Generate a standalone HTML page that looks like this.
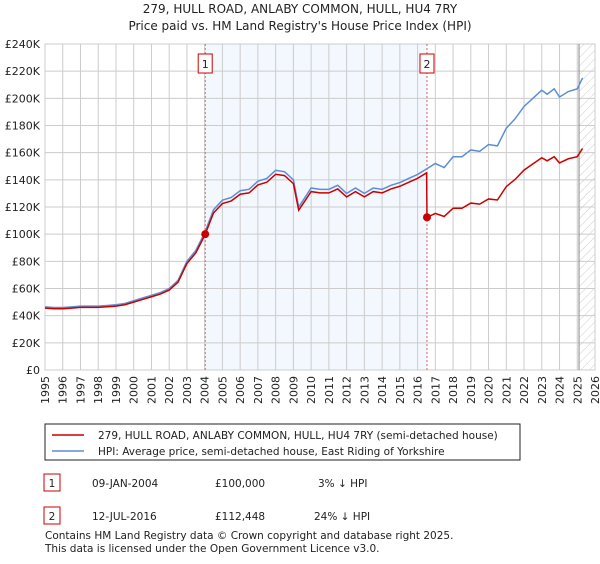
<!DOCTYPE html>
<html><head><meta charset="utf-8"><style>
body{margin:0;background:#fff;font-family:"DejaVu Sans","Liberation Sans",sans-serif;}
svg text{font-family:"DejaVu Sans","Liberation Sans",sans-serif;fill:#222;}
</style></head><body>
<svg id="chart" width="600" height="560" xmlns="http://www.w3.org/2000/svg">
<defs><pattern id="hatch" width="6" height="6" patternUnits="userSpaceOnUse" patternTransform="rotate(45)"><line x1="0" y1="0" x2="0" y2="6" stroke="#ccc" stroke-width="1"/></pattern></defs>
<text x="300" y="13" text-anchor="middle" font-size="12">279, HULL ROAD, ANLABY COMMON, HULL, HU4 7RY</text>
<text x="300" y="30" text-anchor="middle" font-size="12">Price paid vs. HM Land Registry's House Price Index (HPI)</text>
<g id="grid"></g><g id="axes"></g><g id="series"></g>
<rect x="45" y="424" width="475" height="36" fill="#fff" stroke="#222"/>
<line x1="52" y1="435" x2="84" y2="435" stroke="#cc0000" stroke-width="1.5"/>
<text x="98" y="439" font-size="10.5">279, HULL ROAD, ANLABY COMMON, HULL, HU4 7RY (semi-detached house)</text>
<line x1="52" y1="451" x2="84" y2="451" stroke="#5b8ed6" stroke-width="1.5"/>
<text x="98" y="455" font-size="10.5">HPI: Average price, semi-detached house, East Riding of Yorkshire</text>
<g>
<rect x="44" y="474" width="16" height="17" fill="#fff" stroke="#cc0000"/><text x="52" y="487" text-anchor="middle" font-size="10.5">1</text>
<text x="92" y="487" font-size="10.5">09-JAN-2004</text><text x="215" y="487" font-size="10.5">£100,000</text><text x="318" y="487" font-size="10.5">3% ↓ HPI</text></g>
<g>
<rect x="44" y="507" width="16" height="17" fill="#fff" stroke="#cc0000"/><text x="52" y="520" text-anchor="middle" font-size="10.5">2</text>
<text x="92" y="520" font-size="10.5">12-JUL-2016</text><text x="215" y="520" font-size="10.5">£112,448</text><text x="314" y="520" font-size="10.5">24% ↓ HPI</text></g>
<text x="45" y="539" font-size="10.5" fill="#444">Contains HM Land Registry data © Crown copyright and database right 2025.</text>
<text x="45" y="552" font-size="10.5" fill="#444">This data is licensed under the Open Government Licence v3.0.</text>
</svg>
<script>
const hpiYears=[1995,1995.5,1996,1996.5,1997,1997.5,1998,1998.5,1999,1999.5,2000,2000.5,2001,2001.5,2002,2002.5,2003,2003.5,2004,2004.5,2005,2005.5,2006,2006.5,2007,2007.5,2008,2008.5,2009,2009.3,2009.7,2010,2010.5,2011,2011.5,2012,2012.5,2013,2013.5,2014,2014.5,2015,2015.5,2016,2016.5,2017,2017.5,2018,2018.5,2019,2019.5,2020,2020.5,2021,2021.5,2022,2022.5,2023,2023.3,2023.7,2024,2024.5,2025,2025.3];
const hpiValues=[46.5,46,46,46.5,47,47,47,47.5,48,49,51,53,55,57,60,66,80,88,101,118,125,127,132,133,139,141,147,146,140,120,128,134,133,133,136,130,134,130,134,133,136,138,141,144,148,152,149,157,157,162,161,166,165,178,185,194,200,206,203,207,201,205,207,215];
const sales=[{t:2004.03,price:100000,label:"1"},{t:2016.53,price:112448,label:"2"}];
const yTicks=[0,20,40,60,80,100,120,140,160,180,200,220,240];
const xTicks=[1995,1996,1997,1998,1999,2000,2001,2002,2003,2004,2005,2006,2007,2008,2009,2010,2011,2012,2013,2014,2015,2016,2017,2018,2019,2020,2021,2022,2023,2024,2025,2026];
const X0=45,X1=595,Y0=370,Y1=44,NS="http://www.w3.org/2000/svg";
const xs=t=>X0+(t-1995)/31*(X1-X0), ys=v=>Y0-v/240*(Y0-Y1);
function mk(tag,at,p){const e=document.createElementNS(NS,tag);for(const k in at)e.setAttribute(k,at[k]);p.appendChild(e);return e;}
const grid=document.getElementById('grid'),axes=document.getElementById('axes'),ser=document.getElementById('series');
const shade=mk('rect',{x:xs(sales[0].t),y:Y1,width:xs(sales[1].t)-xs(sales[0].t),height:Y0-Y1,fill:'#eef3fd',opacity:0.7},grid);


const hat=mk('rect',{x:xs(2025.1),y:Y1,width:X1-xs(2025.1),height:Y0-Y1,fill:'url(#hatch)'},grid);


yTicks.forEach(v=>{mk('line',{x1:X0,x2:X1,y1:ys(v),y2:ys(v),stroke:'#ccc'},grid);
const t=mk('text',{x:X0-5,y:ys(v)+4,'text-anchor':'end','font-size':11},axes);t.textContent=v?'£'+v+'K':'£0';

});
xTicks.forEach(y=>{mk('line',{x1:xs(y),x2:xs(y),y1:Y1,y2:Y0,stroke:'#ccc'},grid);
const px=xs(y)+4,py=Y0+6;
const t=mk('text',{x:px,y:py,'text-anchor':'end','font-size':11,transform:'rotate(-90 '+px+' '+py+')'},axes);t.textContent=y;

});
mk('rect',{x:X0,y:Y1,width:X1-X0,height:Y0-Y1,fill:'none',stroke:'#ccc'},grid);
mk('line',{x1:xs(2025.1),x2:xs(2025.1),y1:Y1,y2:Y0,stroke:'#888'},grid);
function hpiAt(t){for(let i=0;i<hpiYears.length-1;i++)if(t>=hpiYears[i]&&t<=hpiYears[i+1])return hpiValues[i]+(hpiValues[i+1]-hpiValues[i])*(t-hpiYears[i])/(hpiYears[i+1]-hpiYears[i]);return hpiValues[hpiValues.length-1];}
const hp=mk('polyline',{points:hpiYears.map((t,i)=>xs(t)+','+ys(hpiValues[i])).join(' '),fill:'none',stroke:'#5b8ed6','stroke-width':1.5},ser);


const r1=sales[0].price/1000/hpiAt(sales[0].t),r2=sales[1].price/1000/hpiAt(sales[1].t);
const pts=[];hpiYears.forEach((t,i)=>{if(t<sales[1].t)pts.push([t,hpiValues[i]*r1]);});
pts.push([sales[1].t-0.02,hpiAt(sales[1].t-0.02)*r1]);pts.push([sales[1].t,sales[1].price/1000]);
hpiYears.forEach((t,i)=>{if(t>sales[1].t)pts.push([t,hpiValues[i]*r2]);});
const pp=mk('polyline',{points:pts.map(p=>xs(p[0])+','+ys(p[1])).join(' '),fill:'none',stroke:'#cc0000','stroke-width':1.5},ser);


sales.forEach(s=>{const x=xs(s.t);
mk('line',{x1:x,x2:x,y1:Y1,y2:Y0,stroke:'#e06060','stroke-dasharray':'2,2'},grid);
const d=mk('circle',{cx:x,cy:ys(s.price/1000),r:4,fill:'#cc0000'},ser);


const b=mk('rect',{x:x-7,y:54,width:14,height:19,fill:'#fff',stroke:'#cc0000'},ser);


const t=mk('text',{x:x,y:68,'text-anchor':'middle','font-size':11},ser);t.textContent=s.label;});
</script>
</body></html>
